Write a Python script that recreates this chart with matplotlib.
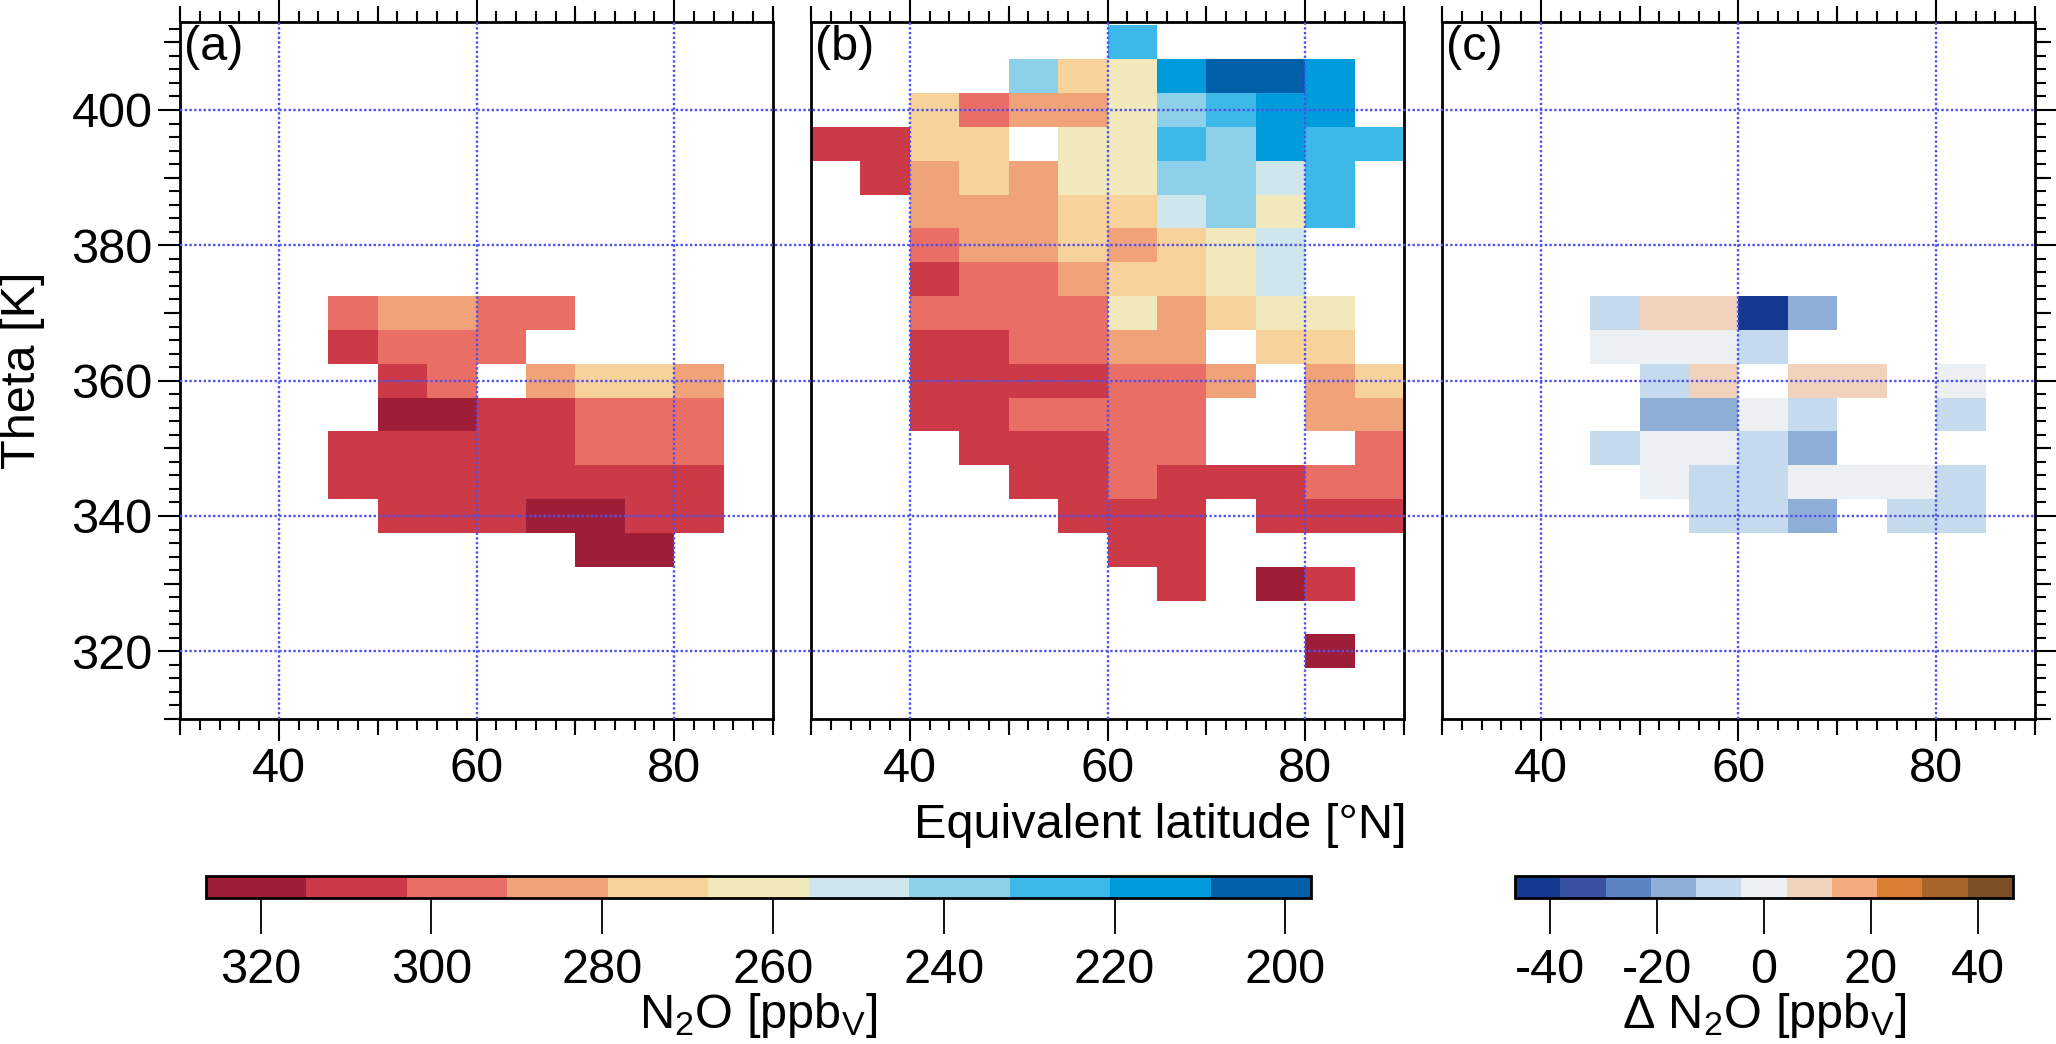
import numpy as np
import matplotlib
matplotlib.use('Agg')
import matplotlib.pyplot as plt
import matplotlib.transforms as mtransforms
from matplotlib.colors import ListedColormap, BoundaryNorm
from matplotlib.lines import Line2D
from matplotlib.ticker import NullFormatter

plt.rcParams['font.family'] = ['Liberation Sans', 'DejaVu Sans']
plt.rcParams['mathtext.fontset'] = 'custom'
plt.rcParams['mathtext.rm'] = 'Liberation Sans'
plt.rcParams['mathtext.it'] = 'Liberation Sans:italic'
plt.rcParams['mathtext.bf'] = 'Liberation Sans:bold'
plt.rcParams['axes.unicode_minus'] = False

n = np.nan

# grid cells: equivalent latitude bins (5 deg) and theta bins (5 K, top row first)
lat_edges = [30, 35, 40, 45, 50, 55, 60, 65, 70, 75, 80, 85, 90]
theta_edges = [412.5, 407.5, 402.5, 397.5, 392.5, 387.5, 382.5, 377.5, 372.5, 367.5,
               362.5, 357.5, 352.5, 347.5, 342.5, 337.5, 332.5, 327.5, 322.5, 317.5]

# (a) N2O [ppbv], rows theta 410 -> 320, columns lat 30-35 ... 85-90
n2o_a = [
    [n, n, n, n, n, n, n, n, n, n, n, n],          # 410
    [n, n, n, n, n, n, n, n, n, n, n, n],          # 405
    [n, n, n, n, n, n, n, n, n, n, n, n],          # 400
    [n, n, n, n, n, n, n, n, n, n, n, n],          # 395
    [n, n, n, n, n, n, n, n, n, n, n, n],          # 390
    [n, n, n, n, n, n, n, n, n, n, n, n],          # 385
    [n, n, n, n, n, n, n, n, n, n, n, n],          # 380
    [n, n, n, n, n, n, n, n, n, n, n, n],          # 375
    [n, n, n, 297, 285, 285, 297, 297, n, n, n, n],  # 370
    [n, n, n, 308, 297, 297, 297, n, n, n, n, n],    # 365
    [n, n, n, n, 308, 297, n, 285, 273, 273, 285, n],  # 360
    [n, n, n, n, 320, 320, 308, 308, 297, 297, 297, n],  # 355
    [n, n, n, 308, 308, 308, 308, 308, 297, 297, 297, n],  # 350
    [n, n, n, 308, 308, 308, 308, 308, 308, 308, 308, n],  # 345
    [n, n, n, n, 308, 308, 308, 320, 320, 308, 308, n],    # 340
    [n, n, n, n, n, n, n, n, 320, 320, n, n],        # 335
    [n, n, n, n, n, n, n, n, n, n, n, n],          # 330
    [n, n, n, n, n, n, n, n, n, n, n, n],          # 325
    [n, n, n, n, n, n, n, n, n, n, n, n],          # 320
]

# (b) N2O [ppbv]
n2o_b = [
    [n, n, n, n, n, n, 226, n, n, n, n, n],                # 410
    [n, n, n, n, 238, 273, 262, 215, 203, 203, 215, n],    # 405
    [n, n, 273, 297, 285, 285, 262, 238, 226, 215, 215, n],  # 400
    [308, 308, 273, 273, n, 262, 262, 226, 238, 215, 226, 226],  # 395
    [n, 308, 285, 273, 285, 262, 262, 238, 238, 250, 226, n],  # 390
    [n, n, 285, 285, 285, 273, 273, 250, 238, 262, 226, n],  # 385
    [n, n, 297, 285, 285, 273, 285, 273, 262, 250, n, n],    # 380
    [n, n, 308, 297, 297, 285, 273, 273, 262, 250, n, n],    # 375
    [n, n, 297, 297, 297, 297, 262, 285, 273, 262, 262, n],  # 370
    [n, n, 308, 308, 297, 297, 285, 285, n, 273, 273, n],    # 365
    [n, n, 308, 308, 308, 308, 297, 297, 285, n, 285, 273],  # 360
    [n, n, 308, 308, 297, 297, 297, 297, n, n, 285, 285],    # 355
    [n, n, n, 308, 308, 308, 297, 297, n, n, n, 297],        # 350
    [n, n, n, n, 308, 308, 297, 308, 308, 308, 297, 297],    # 345
    [n, n, n, n, n, 308, 308, 308, n, 308, 308, 308],        # 340
    [n, n, n, n, n, n, 308, 308, n, n, n, n],                # 335
    [n, n, n, n, n, n, n, 308, n, 320, 308, n],              # 330
    [n, n, n, n, n, n, n, n, n, n, n, n],                    # 325
    [n, n, n, n, n, n, n, n, n, n, 320, n],                  # 320
]

# (c) delta N2O [ppbv]
dn2o_c = [
    [n, n, n, n, n, n, n, n, n, n, n, n],          # 410
    [n, n, n, n, n, n, n, n, n, n, n, n],          # 405
    [n, n, n, n, n, n, n, n, n, n, n, n],          # 400
    [n, n, n, n, n, n, n, n, n, n, n, n],          # 395
    [n, n, n, n, n, n, n, n, n, n, n, n],          # 390
    [n, n, n, n, n, n, n, n, n, n, n, n],          # 385
    [n, n, n, n, n, n, n, n, n, n, n, n],          # 380
    [n, n, n, n, n, n, n, n, n, n, n, n],          # 375
    [n, n, n, -8, 8, 8, -42, -17, n, n, n, n],     # 370
    [n, n, n, 0, 0, 0, -8, n, n, n, n, n],         # 365
    [n, n, n, n, -8, 8, n, 8, 8, n, 0, n],         # 360
    [n, n, n, n, -17, -17, 0, -8, n, n, -8, n],    # 355
    [n, n, n, -8, 0, 0, -8, -17, n, n, n, n],      # 350
    [n, n, n, n, 0, -8, -8, 0, 0, 0, -8, n],       # 345
    [n, n, n, n, n, -8, -8, -17, n, -8, -8, n],    # 340
    [n, n, n, n, n, n, n, n, n, n, n, n],          # 335
    [n, n, n, n, n, n, n, n, n, n, n, n],          # 330
    [n, n, n, n, n, n, n, n, n, n, n, n],          # 325
    [n, n, n, n, n, n, n, n, n, n, n, n],          # 320
]

n2o_ticks = [320, 300, 280, 260, 240, 220, 200]
dn2o_ticks = [-40, -20, 0, 20, 40]
grid_lat = [40, 60, 80]
grid_theta = [320, 340, 360, 380, 400]

# discrete palettes (low -> high)
n2o_colors = ['#005FA9', '#009BDA', '#3CB9E9', '#8CD1E9', '#CEE6EC', '#F1E9BB',
              '#F7D29A', '#F0A278', '#E96E66', '#CC3A48', '#9E1E37']
dn2o_colors = ['#143A8F', '#394F9F', '#5A84C3', '#8FAFD7', '#C5DAEC', '#ECF0F3',
               '#F0D2BD', '#F5AB7E', '#DB7F34', '#A9642A', '#7B4F24']
n2o_norm = BoundaryNorm(np.linspace(197.0, 326.4, 12), 11)
dn2o_norm = BoundaryNorm(np.linspace(-46.6, 46.6, 12), 11)
n2o_cmap = ListedColormap(n2o_colors)
dn2o_cmap = ListedColormap(dn2o_colors)

W, H = 2056, 1044
FS = 35
GRID_KW = dict(color='#5050F0', lw=1.7, ls=(0, (1, 1.0)))


def px_box(x0, y0, x1, y1):
    return [x0 / W, 1 - y1 / H, (x1 - x0) / W, (y1 - y0) / H]


def style_axis(ax, left=False, right=False):
    ax.set_xlim(30, 90)
    ax.set_ylim(310, 413)
    ax.set_xticks([40, 60, 80])
    ax.set_xticks(np.arange(30, 91, 2), minor=True)
    ax.set_yticks([320, 340, 360, 380, 400])
    ax.set_yticks(np.arange(310, 413, 2), minor=True)
    ax.tick_params(which='both', direction='out', top=True, bottom=True,
                   left=left, right=right, labelleft=left, labelright=False,
                   width=1.5, labelsize=FS)
    ax.tick_params(which='major', length=15.8, pad=4)
    ax.tick_params(which='minor', length=8)
    for s in ax.spines.values():
        s.set_linewidth(2)
    # medium ticks every 10
    for loc in ('bottom', 'top'):
        sec = ax.secondary_xaxis(loc)
        sec.set_xticks([30, 50, 70, 90])
        sec.xaxis.set_major_formatter(NullFormatter())
        sec.tick_params(direction='out', length=11.5, width=1.5)
        for s in sec.spines.values():
            s.set_visible(False)
    for loc, on in (('left', left), ('right', right)):
        if on:
            sec = ax.secondary_yaxis(loc)
            sec.set_yticks([310, 330, 350, 370, 390, 410])
            sec.yaxis.set_major_formatter(NullFormatter())
            sec.tick_params(direction='out', length=11.5, width=1.5)
            for s in sec.spines.values():
                s.set_visible(False)
    for g in grid_lat:
        ax.axvline(g, zorder=3, **GRID_KW)


fig = plt.figure(figsize=(W / 100, H / 100), dpi=100)
ax_a = fig.add_axes(px_box(180, 22, 773, 719))
ax_b = fig.add_axes(px_box(811, 22, 1404, 719))
ax_c = fig.add_axes(px_box(1442, 22, 2035, 719))

ax_a.pcolormesh(lat_edges, theta_edges, np.ma.masked_invalid(n2o_a),
                cmap=n2o_cmap, norm=n2o_norm)
mesh_b = ax_b.pcolormesh(lat_edges, theta_edges, np.ma.masked_invalid(n2o_b),
                         cmap=n2o_cmap, norm=n2o_norm)
mesh_c = ax_c.pcolormesh(lat_edges, theta_edges, np.ma.masked_invalid(dn2o_c),
                         cmap=dn2o_cmap, norm=dn2o_norm)

style_axis(ax_a, left=True)
style_axis(ax_b)
style_axis(ax_c, right=True)

for ax, lab in zip((ax_a, ax_b, ax_c), ('(a)', '(b)', '(c)')):
    ax.text(0.007, 0.996, lab, transform=ax.transAxes, ha='left', va='top',
            fontsize=FS, zorder=5)

# horizontal grid lines run across all three panels
grid_tf = mtransforms.blended_transform_factory(fig.transFigure, ax_a.transData)
x_left = ax_a.get_position().x0
x_right = ax_c.get_position().x1
for t in grid_theta:
    fig.add_artist(Line2D([x_left, x_right], [t, t], transform=grid_tf, **GRID_KW))

fig.text(23 / W, 1 - 370 / H, 'Theta [K]', rotation=90, ha='center', va='center',
         fontsize=FS)
fig.text(1160 / W, 1 - 826 / H, 'Equivalent latitude [°N]', ha='center',
         va='center', fontsize=FS)

# colorbars
cax1 = fig.add_axes(px_box(206, 876, 1311, 898))
cb1 = fig.colorbar(mesh_b, cax=cax1, orientation='horizontal', ticks=n2o_ticks)
cax1.invert_xaxis()
cax2 = fig.add_axes(px_box(1515, 876, 2013, 898))
cb2 = fig.colorbar(mesh_c, cax=cax2, orientation='horizontal', ticks=dn2o_ticks)
for cb in (cb1, cb2):
    cb.outline.set_linewidth(2)
    cb.ax.minorticks_off()
    cb.ax.tick_params(direction='out', length=26, width=1.3, labelsize=FS, pad=10)

fig.text(758 / W, 1 - 1016 / H, r'N$_\mathrm{2}$O [ppb$_\mathrm{V}$]',
         ha='center', va='center', fontsize=FS)
fig.text(1764 / W, 1 - 1016 / H, r'$\Delta$ N$_\mathrm{2}$O [ppb$_\mathrm{V}$]',
         ha='center', va='center', fontsize=FS)

fig.savefig('out.png', dpi=100)
